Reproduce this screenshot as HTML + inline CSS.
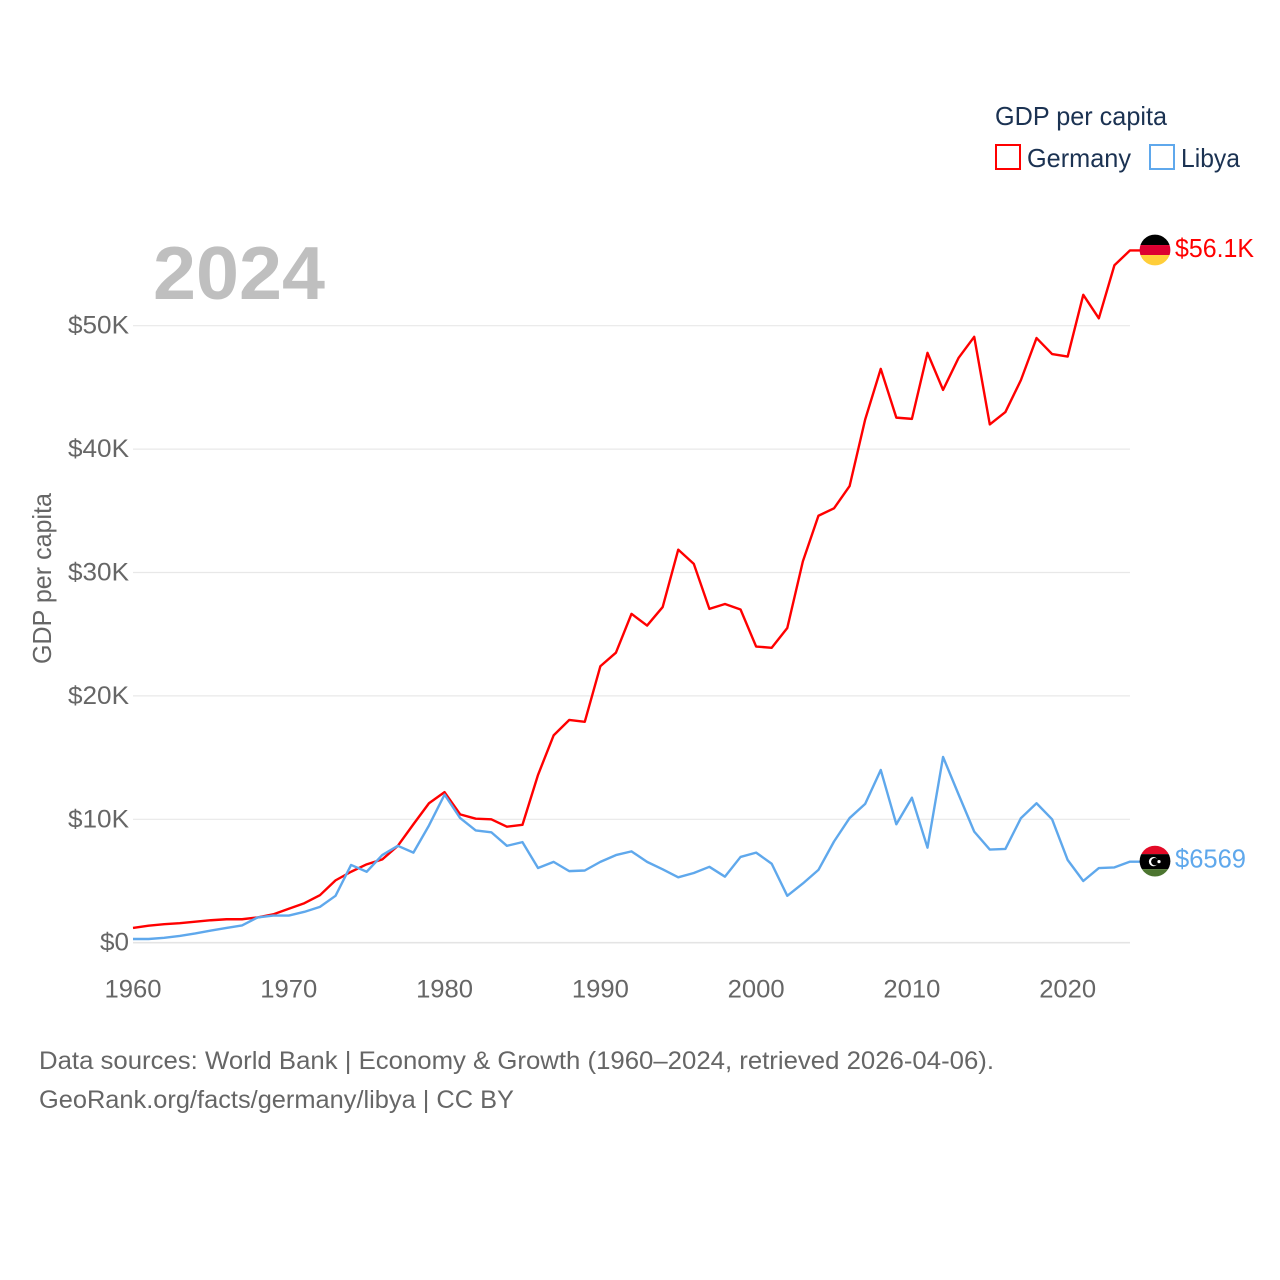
<!DOCTYPE html>
<html lang="en">
<head>
<meta charset="utf-8">
<title>GDP per capita: Germany and Libya</title>
<style>
html,body{margin:0;padding:0;background:#fff;}
#stage{display:block;width:1280px;height:1280px;font-family:"Liberation Sans",sans-serif;}
</style>
</head>
<body>
<svg id="stage" xmlns="http://www.w3.org/2000/svg" width="1280" height="1280" viewBox="0 0 1280 1280">
  <defs>
    <clipPath id="clip-de"><circle cx="0" cy="0" r="15.4"></circle></clipPath>
    <clipPath id="clip-ly"><circle cx="0" cy="0" r="15.4"></circle></clipPath>
  </defs>
  <g id="grid"></g>
  <g id="yticks"></g>
  <g id="xticks"></g>
  <text x="153" y="299" font-size="75" font-weight="bold" fill="#bfbfbf" textLength="172" lengthAdjust="spacingAndGlyphs">2024</text>
  <text transform="translate(51,578.5) rotate(-90)" text-anchor="middle" font-size="26" fill="#666666" textLength="171" lengthAdjust="spacingAndGlyphs">GDP per capita</text>
  <g id="series"></g>
  <g id="end-markers">
    <g id="flag-de" clip-path="url(#clip-de)">
      <rect x="-16" y="-16" width="32" height="11" fill="#000000"></rect>
      <rect x="-16" y="-5" width="32" height="10" fill="#dd0031"></rect>
      <rect x="-16" y="5" width="32" height="11" fill="#ffce3a"></rect>
    </g>
    <g id="flag-ly" clip-path="url(#clip-ly)">
      <rect x="-16" y="-16" width="32" height="9" fill="#e30a27"></rect>
      <rect x="-16" y="-7" width="32" height="15" fill="#000000"></rect>
      <rect x="-16" y="8" width="32" height="8" fill="#4c7530"></rect>
      <circle cx="-1.5" cy="0.5" r="4.6" fill="#ffffff"></circle>
      <circle cx="-0.2" cy="0.5" r="3.7" fill="#000000"></circle>
      <circle cx="4" cy="0.5" r="1.6" fill="#ffffff"></circle>
    </g>
  </g>
  <g>
    <text x="995" y="125" font-size="26" fill="#1b3252" textLength="172" lengthAdjust="spacingAndGlyphs">GDP per capita</text>
    <rect x="996" y="145" width="24" height="24" fill="none" stroke="#ff0000" stroke-width="2"></rect>
    <text x="1027" y="167" font-size="26" fill="#1b3252" textLength="104" lengthAdjust="spacingAndGlyphs">Germany</text>
    <rect x="1150" y="145" width="24" height="24" fill="none" stroke="#5fa8ec" stroke-width="2"></rect>
    <text x="1181" y="167" font-size="26" fill="#1b3252" textLength="59" lengthAdjust="spacingAndGlyphs">Libya</text>
  </g>
  <text id="label-de" x="1175" font-size="26" fill="#ff0000" textLength="79" lengthAdjust="spacingAndGlyphs">$56.1K</text>
  <text id="label-ly" x="1175" font-size="26" fill="#5fa8ec" textLength="71" lengthAdjust="spacingAndGlyphs">$6569</text>
  <text x="39" y="1069" font-size="25" fill="#666666" textLength="955" lengthAdjust="spacingAndGlyphs">Data sources: World Bank | Economy &amp; Growth (1960–2024, retrieved 2026-04-06).</text>
  <text x="39" y="1108" font-size="25" fill="#666666" textLength="475" lengthAdjust="spacingAndGlyphs">GeoRank.org/facts/germany/libya | CC BY</text>
</svg>
<script>
const firstYear = 1960;
const lastYear = 2024;
const germanyValues = [1.2,1.38,1.5,1.58,1.7,1.82,1.9,1.9,2.05,2.3,2.75,3.2,3.85,5.05,5.75,6.35,6.75,7.85,9.6,11.3,12.2,10.4,10.05,10.0,9.4,9.55,13.6,16.8,18.05,17.9,22.4,23.5,26.65,25.7,27.2,31.85,30.7,27.05,27.45,27.0,24.0,23.9,25.5,30.9,34.6,35.2,37.0,42.4,46.5,42.55,42.45,47.8,44.8,47.4,49.1,42.0,43.0,45.6,49.0,47.7,47.5,52.5,50.6,54.9,56.1];
const libyaValues = [0.3,0.3,0.4,0.55,0.75,0.98,1.2,1.4,2.05,2.2,2.2,2.5,2.9,3.8,6.3,5.75,7.1,7.85,7.3,9.5,12.0,10.1,9.1,8.95,7.85,8.15,6.05,6.55,5.8,5.85,6.55,7.1,7.4,6.55,5.95,5.3,5.65,6.15,5.35,6.95,7.3,6.4,3.8,4.8,5.9,8.2,10.1,11.25,14.0,9.6,11.75,7.7,15.05,12.0,9.0,7.55,7.6,10.1,11.3,10.0,6.7,5.0,6.05,6.1,6.569];
const yTickValues = [0,10,20,30,40,50];
const yTickLabels = ["$0","$10K","$20K","$30K","$40K","$50K"];
const xTickValues = [1960,1970,1980,1990,2000,2010,2020];
const xTickLabels = ["1960","1970","1980","1990","2000","2010","2020"];

const NS = "http://www.w3.org/2000/svg";
const plotLeft = 133, plotRight = 1130, plotBottom = 942.7, pxPerK = 12.34;
function xScale(year){ return plotLeft + (year - firstYear) * (plotRight - plotLeft) / (lastYear - firstYear); }
function yScale(v){ return plotBottom - v * pxPerK; }

const grid = document.getElementById("grid");
const yticks = document.getElementById("yticks");
const xticks = document.getElementById("xticks");
const series = document.getElementById("series");

yTickValues.forEach(function(v, i){
  const line = document.createElementNS(NS, "line");
  
  
  line.setAttribute("x1", plotLeft);
  line.setAttribute("x2", plotRight);
  line.setAttribute("y1", yScale(v));
  line.setAttribute("y2", yScale(v));
  line.setAttribute("stroke", v === 0 ? "#e4e4e4" : "#e8e8e8");
  line.setAttribute("stroke-width", v === 0 ? "1.6" : "1.2");
  grid.appendChild(line);

  const t = document.createElementNS(NS, "text");
  
  
  t.setAttribute("x", 129);
  t.setAttribute("y", yScale(v) + 8);
  t.setAttribute("text-anchor", "end");
  t.setAttribute("font-size", "25");
  t.setAttribute("fill", "#666666");
  t.setAttribute("textLength", yTickLabels[i].length > 2 ? 61 : 29);
  t.setAttribute("lengthAdjust", "spacingAndGlyphs");
  t.textContent = yTickLabels[i];
  yticks.appendChild(t);
});

xTickValues.forEach(function(y, i){
  const t = document.createElementNS(NS, "text");
  
  
  t.setAttribute("x", xScale(y));
  t.setAttribute("y", 997.5);
  t.setAttribute("text-anchor", "middle");
  t.setAttribute("font-size", "25");
  t.setAttribute("fill", "#666666");
  t.setAttribute("textLength", 57);
  t.setAttribute("lengthAdjust", "spacingAndGlyphs");
  t.textContent = xTickLabels[i];
  xticks.appendChild(t);
});

function pointsFor(values){
  const pts = values.map(function(v, i){
    return xScale(firstYear + i).toFixed(2) + "," + yScale(v).toFixed(2);
  });
  const lastV = values[values.length - 1];
  pts.push((plotRight + 10) + "," + yScale(lastV).toFixed(2));
  return pts.join(" ");
}

const lineGermany = document.createElementNS(NS, "polyline");


lineGermany.setAttribute("points", pointsFor(germanyValues));
lineGermany.setAttribute("fill", "none");
lineGermany.setAttribute("stroke", "#ff0000");
lineGermany.setAttribute("stroke-width", "2.4");
lineGermany.setAttribute("stroke-linejoin", "round");
series.appendChild(lineGermany);

const lineLibya = document.createElementNS(NS, "polyline");


lineLibya.setAttribute("points", pointsFor(libyaValues));
lineLibya.setAttribute("fill", "none");
lineLibya.setAttribute("stroke", "#5fa8ec");
lineLibya.setAttribute("stroke-width", "2.4");
lineLibya.setAttribute("stroke-linejoin", "round");
series.appendChild(lineLibya);

const deY = yScale(germanyValues[germanyValues.length - 1]);
const lyY = yScale(libyaValues[libyaValues.length - 1]);
document.getElementById("flag-de").setAttribute("transform", "translate(1155," + (deY - 0.4) + ")");
document.getElementById("flag-ly").setAttribute("transform", "translate(1155," + (lyY - 0.5) + ")");
document.getElementById("label-de").setAttribute("y", deY + 6.5);
document.getElementById("label-ly").setAttribute("y", lyY + 6);
</script>
</body>
</html>
